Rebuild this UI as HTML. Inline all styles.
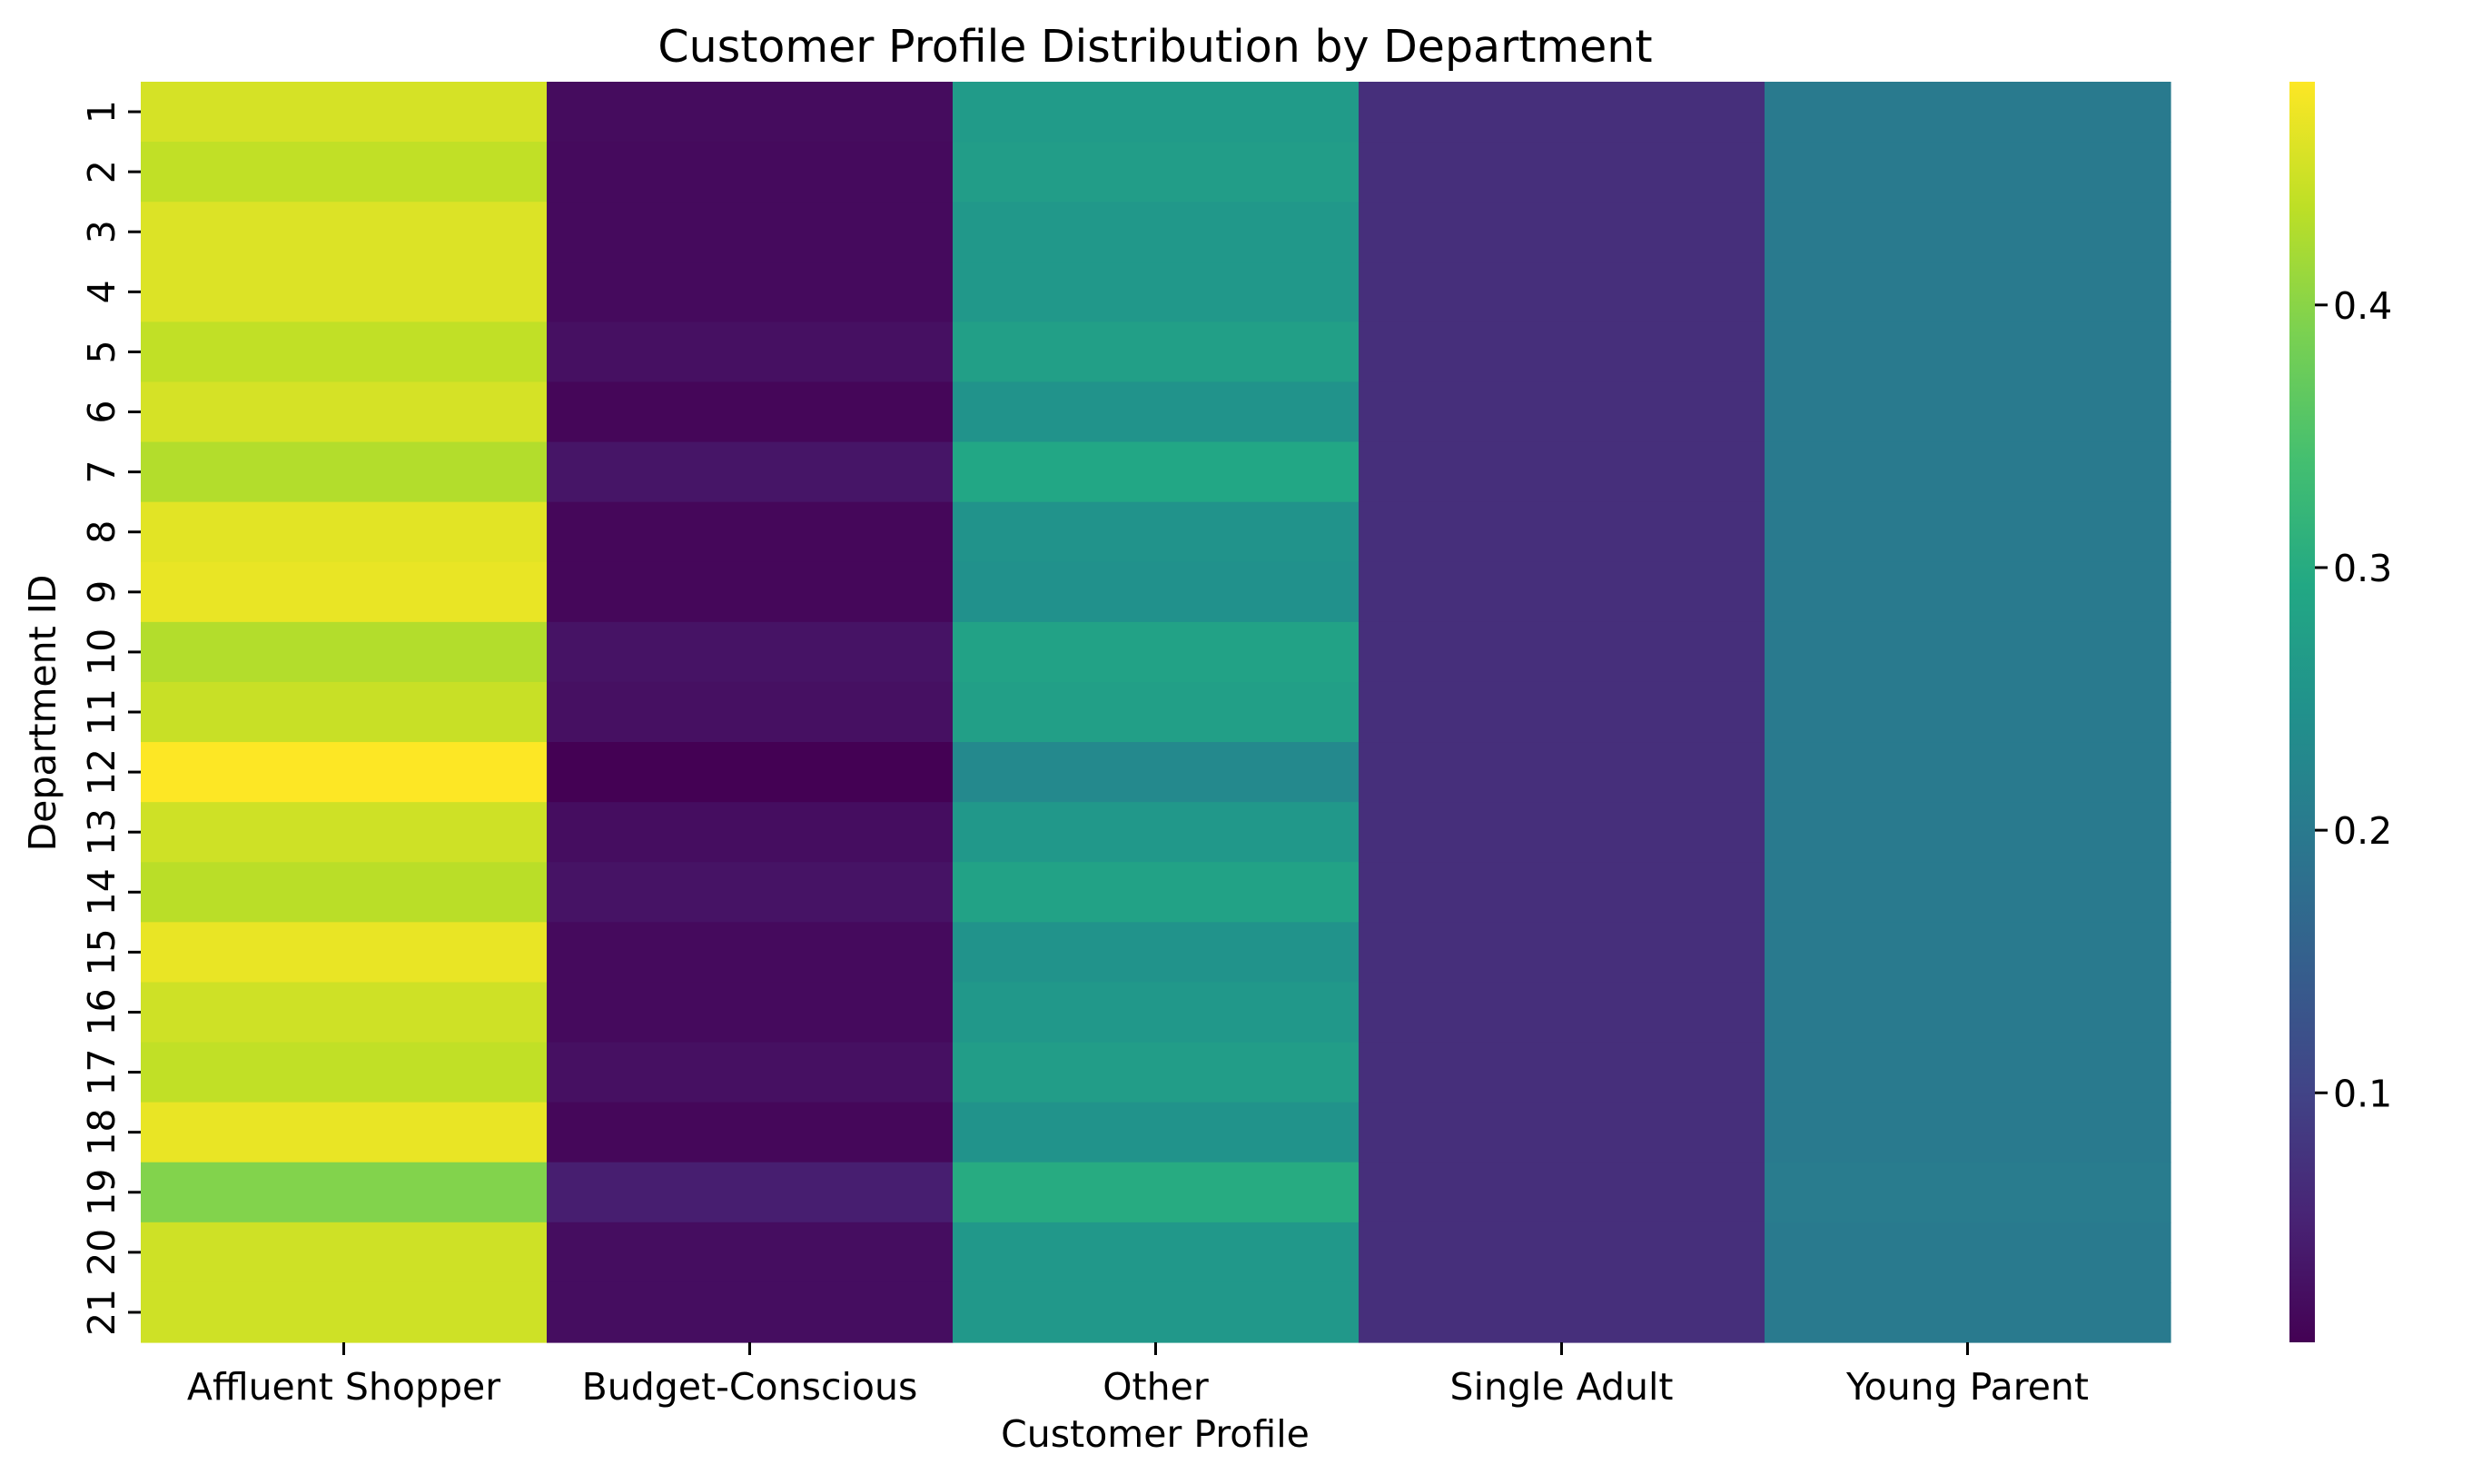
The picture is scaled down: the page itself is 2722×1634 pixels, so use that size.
<!DOCTYPE html>
<html><head><meta charset="utf-8"><style>
html,body{margin:0;padding:0;background:#fff}
svg{display:block;font-family:"DejaVu Sans","Liberation Sans",sans-serif}
</style></head><body>
<svg id="chart" width="2722" height="1634" viewBox="0 0 2722 1634">
<defs><linearGradient id="cbg" x1="0" y1="1" x2="0" y2="0">
<stop offset="0" stop-color="#440154"/><stop offset="0.1" stop-color="#482475"/><stop offset="0.2" stop-color="#414487"/><stop offset="0.3" stop-color="#355f8d"/><stop offset="0.4" stop-color="#2a788e"/><stop offset="0.5" stop-color="#21918c"/><stop offset="0.6" stop-color="#22a884"/><stop offset="0.7" stop-color="#44bf70"/><stop offset="0.8" stop-color="#7ad151"/><stop offset="0.9" stop-color="#bddf26"/><stop offset="1" stop-color="#fde725"/>
</linearGradient></defs>
<text x="1272" y="68" font-size="49" text-anchor="middle">Customer Profile Distribution by Department</text>
<g id="cells"></g>
<g id="yticks"></g>
<g id="xticks"></g>
<text x="1272" y="1593" font-size="41" text-anchor="middle">Customer Profile</text>
<text transform="translate(61,785) rotate(-90)" font-size="41" text-anchor="middle">Department ID</text>
<rect x="2521" y="90" width="28" height="1388" fill="url(#cbg)"/>
<g id="cbticks"></g>
</svg>
<script>
const categories = ["Affluent Shopper","Budget-Conscious","Other","Single Adult","Young Parent"];
const departments = [1,2,3,4,5,6,7,8,9,10,11,12,13,14,15,16,17,18,19,20,21];
const affluent = [.455,.44,.46,.46,.44,.455,.43,.465,.47,.43,.445,.485,.45,.435,.47,.45,.44,.47,.395,.45,.45];
const budget = [.02,.018,.018,.018,.025,.012,.032,.013,.013,.03,.025,.005,.022,.03,.018,.018,.025,.013,.045,.022,.022];
const other = [.265,.27,.26,.26,.275,.25,.29,.25,.245,.28,.275,.23,.26,.28,.25,.26,.27,.25,.3,.26,.26];
const single = [.07,.07,.07,.07,.07,.07,.07,.07,.07,.07,.07,.07,.07,.07,.07,.07,.07,.07,.07,.07,.07];
const young = [.2,.2,.2,.2,.2,.2,.2,.2,.2,.2,.2,.2,.2,.2,.2,.2,.2,.2,.205,.2,.2];
const cbTicks = [0.1,0.2,0.3,0.4];
const series = [affluent,budget,other,single,young];
const vmin=0.005, vmax=0.485;
const L=155,T=90,W=2235,H=1388;
const cw=W/categories.length, rh=H/departments.length;
const VIR=["#440154","#482475","#414487","#355f8d","#2a788e","#21918c","#22a884","#44bf70","#7ad151","#bddf26","#fde725"];
function hx(c){return [1,3,5].map(i=>parseInt(c.substr(i,2),16));}
function viridis(t){t=Math.max(0,Math.min(1,t));const p=t*10,i=Math.min(9,Math.floor(p)),f=p-i;const a=hx(VIR[i]),b=hx(VIR[i+1]);return "rgb("+a.map((v,k)=>Math.round(v+(b[k]-v)*f)).join(",")+")";}
function cs(v){return (v-vmin)/(vmax-vmin);}
function yCb(v){return T+H-(v-vmin)/(vmax-vmin)*H;}
const NS="http://www.w3.org/2000/svg";
function mk(tag,attrs,parent){const e=document.createElementNS(NS,tag);for(const k in attrs)e.setAttribute(k,attrs[k]);parent.appendChild(e);return e;}
const cells=document.getElementById('cells');
series.forEach((s,ci)=>{s.forEach((v,ri)=>{
  const r=mk('rect',{x:L+ci*cw,y:T+ri*rh,width:cw+0.6,height:rh+0.6,fill:viridis(cs(v))},cells);
  
  
});});
const yt=document.getElementById('yticks');
departments.forEach((d,i)=>{
  const y=T+(i+0.5)*rh;
  const l=mk('line',{x1:L-14,x2:L,y1:y,y2:y,stroke:'#000','stroke-width':3},yt);
  
  
  const t=mk('text',{transform:`translate(${L-29},${y}) rotate(-90)`,'font-size':41,'text-anchor':'middle'},yt);
  t.textContent=d;
  
  
});
const xt=document.getElementById('xticks');
categories.forEach((c,i)=>{
  const x=L+(i+0.5)*cw;
  const l=mk('line',{x1:x,x2:x,y1:T+H,y2:T+H+14,stroke:'#000','stroke-width':3},xt);
  
  
  const t=mk('text',{x:x,y:1541,'font-size':41,'text-anchor':'middle'},xt);
  t.textContent=c;
  
  
});
const cb=document.getElementById('cbticks');
cbTicks.forEach(v=>{
  const y=yCb(v);
  const l=mk('line',{x1:2549,x2:2563,y1:y,y2:y,stroke:'#000','stroke-width':3},cb);
  
  
  const t=mk('text',{x:2569,y:y+15,'font-size':41},cb);
  t.textContent=v.toFixed(1);
  
  
});
</script>
</body></html>
